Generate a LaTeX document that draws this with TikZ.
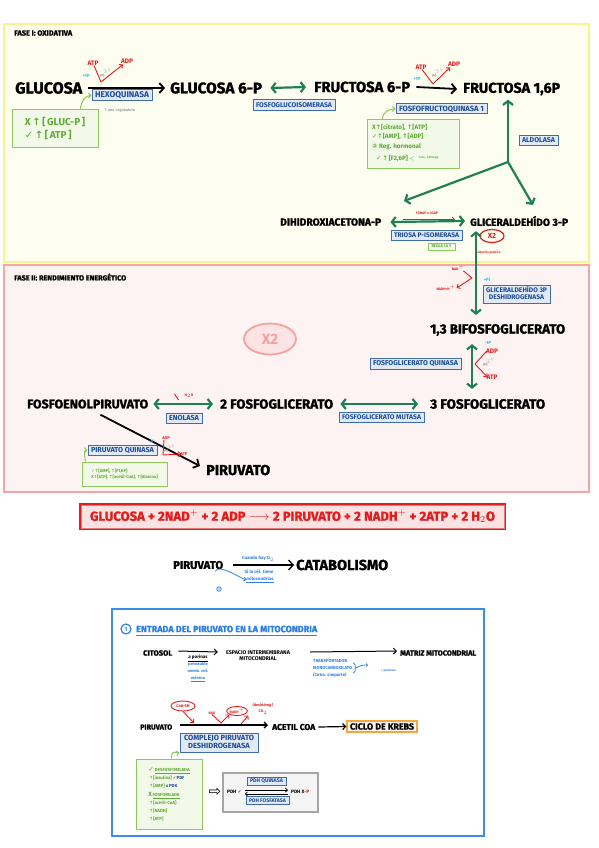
\documentclass[tikz,border=0pt]{standalone}
\usepackage{graphicx}
\usepackage{fontspec}
\setmainfont{Fira Sans}
\newfontfamily\hvy[FakeBold=1.4]{Fira Sans}
\newfontfamily\dv{DejaVu Sans}
\usetikzlibrary{arrows.meta,calc,shapes.geometric}
\definecolor{ylf}{HTML}{FEFEF0}
\definecolor{ylb}{HTML}{F8F48C}
\definecolor{pkf}{HTML}{FEF3F3}
\definecolor{pkb}{HTML}{F5A5A5}
\definecolor{garr}{HTML}{1F7F57}
\definecolor{enzb}{HTML}{3D6DAE}
\definecolor{enzf}{HTML}{E1E9F4}
\definecolor{enzt}{HTML}{1D4C97}
\definecolor{regb}{HTML}{8CCB5A}
\definecolor{regf}{HTML}{F2F9E8}
\definecolor{regt}{HTML}{5DAA35}
\definecolor{rd}{HTML}{E31D1D}
\definecolor{cy}{HTML}{2DB8EC}
\definecolor{gy}{HTML}{A0A0A0}
\definecolor{eqf}{HTML}{FCE3E3}
\definecolor{mb}{HTML}{3A8DF0}
\definecolor{bt}{HTML}{2F7FE6}
\definecolor{org}{HTML}{F7A540}
\definecolor{orf}{HTML}{FFF6EA}
\definecolor{x2f}{HTML}{FDE4E4}
\definecolor{x2b}{HTML}{F6A0A0}
\newcommand\W[2]{\resizebox{#1pt}{!}{#2}}
\newcommand\myup{{\dv ↑}}
\newcommand\myok{{\dv ✓}}
\tikzset{
  lab/.style={inner sep=0pt, anchor=west, font=\hvy\bfseries},
  enz/.style={draw=enzb, fill=enzf, line width=1pt, inner sep=0pt, text=enzt, font=\bfseries},
  reg/.style={draw=regb, fill=regf, line width=1pt, inner sep=0pt, text=regt, font=\bfseries},
  rt/.style={inner sep=0pt, text=rd, font=\bfseries\fontsize{6.5}{7}\selectfont},
  ct/.style={inner sep=0pt, text=cy, font=\bfseries\fontsize{4.5}{5}\selectfont},
  mg/.style={inner sep=0pt, text=gy, font=\bfseries\fontsize{3.5}{4}\selectfont, rotate=20},
  bl/.style={inner sep=0pt, text=bt, font=\bfseries\fontsize{4.5}{5.5}\selectfont},
  blk/.style={line width=1.8pt, -{Straight Barb[length=4.5pt,width=10pt]}},
  tarr/.style={line width=1pt, -{Straight Barb[length=3pt,width=6pt]}},
  gdbl/.style={draw=garr, line width=2.2pt, {Straight Barb[length=4pt,width=10pt]}-{Straight Barb[length=4pt,width=10pt]}},
  gone/.style={draw=garr, line width=2.2pt, -{Straight Barb[length=4pt,width=10pt]}},
  rline/.style={draw=rd, line width=0.9pt},
  rarr/.style={draw=rd, line width=0.9pt, -{Straight Barb[length=2.5pt,width=5pt]}},
  gcurve/.style={draw=regb, line width=1pt, -{Straight Barb[length=2.5pt,width=5pt]}},
}
\begin{document}
\begin{tikzpicture}[x=1pt,y=-1pt]
\useasboundingbox (0,0) rectangle (599,848);
\fill[white] (0,0) rectangle (599,848);
% ---------------- PHASE I ----------------
\draw[draw=ylb, fill=ylf, line width=1.5pt] (4,24) rectangle (589,262);
\node[lab] (t1) at (14,33) {\W{58}{FASE I: OXIDATIVA}};
\node[lab] (glu) at (15,88) {\W{67}{GLUCOSA}};
\node[lab] (g6p) at (170,88) {\W{92}{GLUCOSA 6-P}};
\draw[blk] ([xshift=6]glu.east) -- ([xshift=-5]g6p.west);
\node[rt] (atp1) at (93,63) {ATP};
\node[rt] (adp1) at (127,61) {ADP};
\node[ct] (p1) at (86,76) {+1P};
\node[mg] (mg1) at (106,73) {Mg$^{2+}$};
\coordinate (v1) at (101,82);
\draw[rline] ([xshift=1]atp1.south) -- (v1);
\draw[rarr] (v1) -- ([xshift=-4,yshift=-1]adp1.south);
\node[enz,minimum width=60pt,minimum height=11pt] (hexo) at (122,95.5) {\W{54}{HEXOQUINASA}};
\node[inner sep=0pt,anchor=west,text=gy,font=\bfseries\fontsize{3.8}{4}\selectfont] (enzr) at (104,110) {\myup\,enz. reguladora};
\node[reg,minimum width=86pt,minimum height=37pt,align=left,font=\bfseries\fontsize{10}{13}\selectfont] (r1) at (55,128.5) {X\,\myup\,[\,GLUC-P\,]\\\myok\,\myup\,[\,ATP\,]};
\draw[gcurve] ([xshift=-18]r1.north east) .. controls +(0,-8) and +(-6,0) .. (hexo.west);
\node[lab] (f6p) at (314,87) {\W{96}{FRUCTOSA 6-P}};
\draw[gdbl] ([xshift=8]g6p.east) -- ([xshift=-8]f6p.west);
\node[enz,minimum width=82pt,minimum height=11pt] (pgi) at (294,105.5) {\W{76}{FOSFOGLUCOISOMERASA}};
\node[lab] (f16p) at (463,89) {\W{97}{FRUCTOSA 1,6P}};
\draw[blk] ([xshift=6]f6p.east) -- ([xshift=-6]f16p.west);
\node[ct] (p2) at (417,79) {+1P};
\node[rt] (atp2) at (421,67) {ATP};
\node[rt] (adp2) at (454,64) {ADP};
\node[mg] (mg2) at (438,73) {Mg$^{2+}$};
\coordinate (v2) at (433,84);
\draw[rline] ([xshift=1]atp2.south) -- (v2);
\draw[rarr] (v2) -- ([xshift=-4,yshift=-1]adp2.south);
\node[enz,minimum width=91pt,minimum height=10pt] (pfk) at (441.5,109) {\W{85}{FOSFOFRUCTOQUINASA 1}};
\node[reg,minimum width=92pt,minimum height=48pt] (r2) at (413,144) {};
\node[inner sep=0pt,anchor=north west,align=left,text=regt,font=\bfseries\fontsize{6.3}{9.6}\selectfont] (r2t) at (372,124) {X\myup[citrato], \myup[ATP]\\\myok\myup[AMP], \myup[ADP]\\{\dv ②} Reg. hormonal};
\node[inner sep=0pt,anchor=west,text=regt,font=\bfseries\fontsize{6.3}{7}\selectfont] (r2u) at (376,158) {\myok\,\myup\,[F2,6P]\,$<$};
\node[inner sep=0pt,anchor=west,text=regt,font=\bfseries\fontsize{3}{3.5}\selectfont] (insg) at ([xshift=3]r2u.east) {\myup Ins.\ {\dv ↓}Glucag.};
\draw[gcurve] ([xshift=16]r2.north west) .. controls +(0,-8) and +(-6,0) .. (pfk.west);
\node[enz,minimum width=39pt,minimum height=10pt] (aldo) at (538.5,140) {\W{33}{ALDOLASA}};
\node[lab] (dhap) at (280,222) {\W{101}{DIHIDROXIACETONA-P}};
\node[lab] (gap) at (470,221) {\W{98}{GLICERALDEHÍDO 3-P}};
\coordinate (J) at (508,162);
\coordinate (dend) at (404,201);
\coordinate (gend) at (533,205);
\draw[gone,shorten >=4pt] (J) -- (J |- f16p.south);
\draw[gone] (J) -- (dend);
\draw[gone] (J) -- (gend);
\draw[gdbl] ([xshift=9]dhap.east) -- ([xshift=-5]gap.west);
\node[rt,font=\bfseries\fontsize{3.5}{4}\selectfont] (dg) at (427,213) {1DHAP x 2GAP};
\draw[rarr,line width=0.6pt] ([xshift=-24,yshift=-5]dg.south) -- ([xshift=28,yshift=-5]dg.south);
\node[enz,minimum width=71pt,minimum height=10pt] (tpi) at (426.5,235) {\W{65}{TRIOSA P-ISOMERASA}};
\node[reg,minimum width=27pt,minimum height=7pt] (regla) at (441.5,246.5) {\W{20}{REGLA 1A Y}};
\node[ellipse,draw=rd,line width=1.2pt,minimum width=24pt,minimum height=13pt,inner sep=0pt,text=rd,font=\bfseries\fontsize{7.5}{8}\selectfont] (x2s) at (492,236) {X2};
\node[rt,font=\bfseries\fontsize{3}{3.5}\selectfont] (oxq) at (488,253) {oxidación química};
% ---------------- PHASE II ----------------
\draw[draw=pkb, fill=pkf, line width=1.5pt] (4,265) rectangle (589,492);
\node[lab] (t2) at (14,277) {\W{112}{FASE II: RENDIMIENTO ENERGÉTICO}};
\node[ellipse,draw=x2b,fill=x2f,line width=1.8pt,minimum width=52pt,minimum height=31pt,inner sep=0pt,text=x2b,font=\bfseries\fontsize{15}{15}\selectfont] (x2big) at (270,339) {X2};
\node[lab] (bpg) at (430,330) {\W{135}{1,3 BIFOSFOGLICERATO}};
\draw[gdbl] ([xshift=6,yshift=-5]gap.south west) -- ([xshift=46,yshift=9]bpg.north west);
\node[rt,font=\bfseries\fontsize{3.5}{4}\selectfont] (nad) at (458,268) {NAD$^+$};
\node[rt,font=\bfseries\fontsize{3.5}{4}\selectfont] (nadh) at (446,288) {NADH+H$^+$};
\coordinate (v3) at (472,278);
\draw[rline] ([xshift=-1]nad.south east) -- (v3);
\draw[rarr] (v3) -- ([xshift=1]nadh.east);
\node[ct] (pi) at (487,280) {+Pi};
\node[enz,minimum width=67pt,minimum height=18pt] (gapdh) at (516.5,294) {\W{61}{\begin{tabular}{@{}c@{}}GLICERALDEHÍDO 3P\\[-2pt]DESHIDROGENASA\end{tabular}}};
\node[lab] (pg3) at (430,404) {\W{115}{3 FOSFOGLICERATO}};
\draw[gdbl] ([xshift=42,yshift=-8]bpg.south west) -- ([xshift=42,yshift=10]pg3.north west);
\node[ct] (m1p) at (488,343) {-1P};
\node[rt] (adp3) at (492,351) {ADP};
\node[mg] (mg3) at (489,362) {Mg$^{2+}$};
\node[rt] (atp3) at (492,377) {ATP};
\coordinate (v4) at (475,364);
\draw[rline] ([xshift=1]adp3.west) -- (v4);
\draw[rarr] (v4) -- ([xshift=1]atp3.west);
\node[enz,minimum width=91pt,minimum height=11pt] (pgk) at (415.5,363.5) {\W{85}{FOSFOGLICERATO QUINASA}};
\node[lab] (pg2) at (220,404) {\W{113}{2 FOSFOGLICERATO}};
\draw[gdbl] ([xshift=7]pg2.east) -- ([xshift=-12]pg3.west);
\node[enz,minimum width=85pt,minimum height=10pt] (pgm) at (381.5,417) {\W{79}{FOSFOGLICERATO MUTASA}};
\node[lab] (pep) at (27,404) {\W{121}{FOSFOENOLPIRUVATO}};
\draw[gdbl] ([xshift=5]pep.east) -- ([xshift=-7]pg2.west);
\node[rt,font=\bfseries\fontsize{3.5}{4}\selectfont] (h2o) at (189,396) {H$_2$O};
\draw[rline] ([xshift=-10,yshift=2]h2o.west) -- ([xshift=-6,yshift=-4]h2o.west);
\node[enz,minimum width=36pt,minimum height=10pt] (eno) at (184,418) {\W{30}{ENOLASA}};
\node[lab] (pir1) at (206,470) {\W{64}{PIRUVATO}};
\draw[blk] ([xshift=-48,yshift=-6]pep.south east) -- ([xshift=-6,yshift=4]pir1.west);
\node[ct,font=\bfseries\fontsize{3.5}{4}\selectfont] (m1p2) at (152,441) {-1P};
\node[rt,font=\bfseries\fontsize{4}{4.5}\selectfont] (adp4) at (166,438) {ADP};
\node[mg,font=\bfseries\fontsize{3}{3.5}\selectfont] (mg4) at (170,448) {Mg$^{2+}$};
\node[rt,font=\bfseries\fontsize{4}{4.5}\selectfont] (atp4) at (184,454) {ATP};
\coordinate (v6) at (163,455);
\draw[rline] ([xshift=-2]adp4.south) -- (v6);
\draw[rarr] (v6) -- ([xshift=1]atp4.west);
\node[enz,minimum width=69pt,minimum height=10pt] (pk) at (122.5,450) {\W{63}{PIRUVATO QUINASA}};
\node[reg,minimum width=85pt,minimum height=24pt,align=left,font=\bfseries\fontsize{4.2}{6}\selectfont] (r3) at (124.5,474) {\myok\myup[AMP], \myup[F1,6P]\\X\myup[ATP], \myup[acetil-CoA], \myup[Alanina]};
\draw[gcurve] ([xshift=4]r3.north west) .. controls +(-1,-7) and +(-4,0) .. (pk.west);
% ---------------- EQUATION ----------------
\node[draw=rd,fill=eqf,line width=1.5pt,minimum width=425pt,minimum height=25pt,inner sep=0pt,text=rd,font=\hvy\bfseries] (eq) at (292.5,516.5) {\W{405}{GLUCOSA + 2NAD$^+$ + 2 ADP $\longrightarrow$ 2 PIRUVATO + 2 NADH$^+$ + 2ATP + 2 H$_2$O}};
\draw[rd!60,line width=0.5pt] ([xshift=2,yshift=-2]eq.north west) rectangle ([xshift=-2,yshift=2]eq.south east);
% ---------------- PIRUVATO -> CATABOLISMO ----------------
\node[lab] (pir2) at (173,565) {\W{50}{PIRUVATO}};
\node[lab] (cat) at (296,565) {\W{92}{CATABOLISMO}};
\draw[blk,line width=1.4pt] ([xshift=10]pir2.east) -- ([xshift=-2]cat.west);
\node[bl] (o2) at (258,559) {Cuando hay O$_2$};
\node[bl] (cel) at (259,572) {Si la cél. tiene};
\node[bl] (mito) at (260,580) {\underline{mitocondrias}};
\node[circle,draw=bt,line width=0.8pt,inner sep=0.6pt,text=bt,font=\bfseries\fontsize{3.5}{4}\selectfont] (c1) at (219,589) {1};
\draw[bt,line width=0.8pt,-{Straight Barb[length=2pt,width=4pt]}] ([xshift=-8,yshift=-2]pir2.south east) .. controls +(3,-8) and +(-6,-2) .. (mito.west);
% ---------------- MITOCHONDRIA BOX ----------------
\draw[draw=mb,fill=white,line width=2pt] (112,609) rectangle (484,836);
\node[circle,draw=bt,line width=1.2pt,minimum size=10pt,inner sep=0pt,text=bt,font=\bfseries\fontsize{6}{6}\selectfont] (n1) at (126,629) {1};
\node[lab,text=bt] (tit) at (136,629) {\W{181}{ENTRADA DEL PIRUVATO EN LA MITOCONDRIA}};
\draw[bt,line width=1pt] ([yshift=-3]tit.south west) -- ([yshift=-3]tit.south east);
\node[lab] (cit) at (143,653) {\W{29}{CITOSOL}};
\node[inner sep=0pt,font=\bfseries] (esp) at (258,656) {\W{64}{\begin{tabular}{@{}c@{}}ESPACIO INTERMEMBRANA\\MITOCONDRIAL\end{tabular}}};
\node[lab] (mat) at (400,653) {\W{76}{MATRIZ MITOCONDRIAL}};
\draw[tarr] ([xshift=6,yshift=2]cit.east) -- ([xshift=-8,yshift=4]esp.west);
\draw[tarr] ([xshift=20,yshift=4]esp.east) -- ([xshift=-3,yshift=2]mat.west);
\node[inner sep=0pt,font=\bfseries\fontsize{4.5}{5}\selectfont] (por) at (198,658) {\underline{a porinas}};
\node[bl,align=center,font=\bfseries\fontsize{4}{7}\selectfont] (perm) at (198,672) {permeable\\memb. mit.\\\underline{externa}};
\node[bl,anchor=west,align=left,font=\bfseries\fontsize{4.3}{7}\selectfont] (trans) at (313,668) {TRANSPORTADOR\\MONOCARBOXILATO\\(Cotra. simporte)};
\draw[bt,line width=0.8pt] (trans.east) ++(1,5) .. controls +(3,0) and +(3,0) .. ++(0,-10);
\draw[bt,line width=0.8pt,-{Straight Barb[length=1.5pt,width=3pt]}] ([xshift=4]trans.east) .. controls +(4,-3) and +(-4,0) .. ++(12,-3);
\node[bl,anchor=west,font=\bfseries\fontsize{3}{3.5}\selectfont] (prot) at (381,671) {+ protones};
\node[lab] (pir3) at (140,727) {\W{32}{PIRUVATO}};
\node[lab] (acoa) at (272,727) {\W{43}{ACETIL COA}};
\draw[tarr,line width=1.4pt] ([xshift=8,yshift=2]pir3.east) -- ([xshift=-4,yshift=2]acoa.west);
\node[draw=org,fill=orf,line width=1.2pt,minimum width=70pt,minimum height=11pt,inner sep=0pt,font=\hvy\bfseries] (krebs) at (382,726.5) {\W{64}{CICLO DE KREBS}};
\draw[tarr,line width=1.2pt] ([xshift=3]acoa.east) -- (krebs.west);
\node[ellipse,draw=rd,line width=0.9pt,minimum width=24pt,minimum height=10pt,inner sep=0pt,text=rd,font=\bfseries\fontsize{4}{4}\selectfont] (coa) at (183,706) {CoA-SH};
\coordinate (q1) at (194,723);
\draw[rarr] (coa.south) -- (q1);
\node[rt,font=\bfseries\fontsize{3.5}{4}\selectfont] (nad2) at (212,713) {NAD};
\node[ellipse,draw=rd,line width=0.9pt,minimum width=20pt,minimum height=9pt,inner sep=0pt,text=rd,font=\bfseries\fontsize{3.5}{4}\selectfont] (nadh2) at (237,711) {NADH$^+$};
\coordinate (v5) at (221,723);
\draw[rline] (nad2.south) -- (v5);
\draw[rarr] (v5) -- (nadh2.south west);
\node[rt,align=center,font=\bfseries\fontsize{3.8}{6}\selectfont] (co2) at (263,709) {(deshidrog.)\\CO$_2$};
\coordinate (v7) at (241,724);
\draw[rarr] (v7) -- ([xshift=-4,yshift=-1]co2.south west);
\node[enz,minimum width=78pt,minimum height=19pt] (cpdh) at (219,742.5) {\W{70}{\begin{tabular}{@{}c@{}}COMPLEJO PIRUVATO\\[-2pt]DESHIDROGENASA\end{tabular}}};
\node[reg,minimum width=66pt,minimum height=70pt,align=left,font=\bfseries\fontsize{4.4}{7.8}\selectfont] (r4) at (169,794) {{\fontsize{7}{7}\selectfont\myok}\,\underline{DESFOSFORILADA}\\\ \myup[insulina] {\color{enzt}\myok PDF}\\\ \myup[AMP] {\color{enzt}x PDK}\\[2pt]{\fontsize{6}{6}\selectfont X}\,\underline{FOSFORILADA}\\\ \myup[acetil-CoA]\\\ \myup[NADH]\\\ \myup[ATP]};
\draw[gcurve] ([xshift=36]r4.north west) .. controls +(0,-10) and +(-4,1) .. (cpdh.south west);
\node[inner sep=0pt,font=\dv\fontsize{15}{15}\selectfont] (ha) at (215,792) {⇨};
\node[draw=gray!70,fill=gray!8,line width=1.3pt,minimum width=95pt,minimum height=39pt,inner sep=0pt] (gbox) at (270.5,792.5) {};
\node[lab,font=\bfseries\fontsize{4.8}{5}\selectfont] (pdh1) at (227,792) {PDH \myok};
\node[lab,font=\bfseries\fontsize{4.8}{5}\selectfont] (pdh2) at (291,792) {PDH X{\color{rd}-P}};
\draw[line width=0.8pt,-{Straight Barb[length=2pt,width=4pt]}] ([xshift=3,yshift=2]pdh1.east) -- ([xshift=-3,yshift=2]pdh2.west);
\draw[line width=0.8pt,-{Straight Barb[length=2pt,width=4pt]}] ([xshift=-3,yshift=-2]pdh2.west) -- ([xshift=3,yshift=-2]pdh1.east);
\node[enz,line width=0.8pt,minimum width=39pt,minimum height=8pt] (pdhq) at (266.5,781) {\W{33}{PDH QUINASA}};
\node[enz,line width=0.8pt,minimum width=43pt,minimum height=8pt] (pdhf) at (267.5,800.5) {\W{37}{PDH FOSFATASA}};
\end{tikzpicture}
\end{document}
